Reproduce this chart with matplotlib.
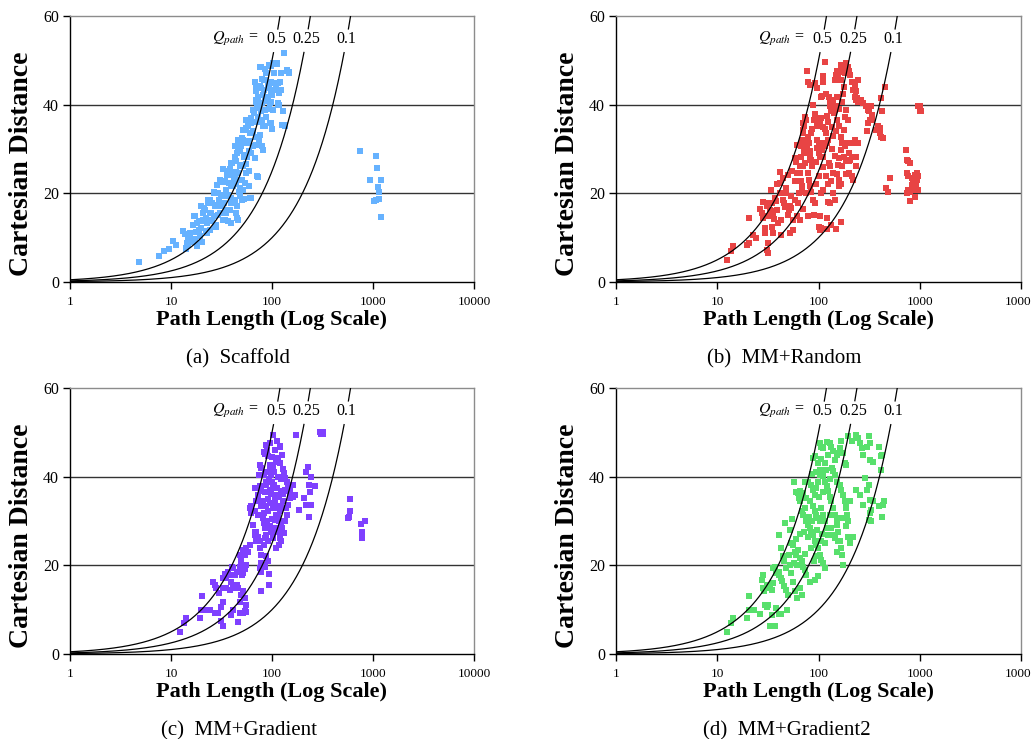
import numpy as np
import matplotlib
matplotlib.use("Agg")
import matplotlib.pyplot as plt
from matplotlib.ticker import NullLocator

plt.rcParams['font.family'] = ['Liberation Serif', 'DejaVu Serif']
plt.rcParams['mathtext.fontset'] = 'stix'

# ---------------- data: (path length, cartesian distance) ----------------
scaffold_pts = [
    (4.8,4.4),(7.6,5.9),(8.5,6.9),(9.5,7.4),(10.5,9.2),(11.3,8.4),(13.2,11.4),(14,7.7),(14.4,8.8),(14.8,10.1),
    (15.4,11.0),(15.9,9.7),(16.9,14.8),(17.8,11.2),(18,8.6),(19,11.8),(20,13.7),(20.8,15.6),(21.2,16.7),(22.4,14.4),
    (22.7,11),(23.3,17.8),(24.2,18.6),(25.1,15.6),(25.7,14),(26.5,20.1),(27,17.1),(28.2,12.9),(28.6,21.9),(30,18.6),
    (30.4,15.6),(31.6,19.3),(32.9,22.5),(33.4,17.8),(34,14),(35.4,20.8),(35.9,24.2),(36.6,19.7),(38,16.2),(38.6,25.5),
    (39.5,21.6),(40.4,26.8),(41,18.6),(41.6,23.1),(42.6,28.3),(43.6,15.6),(44.4,24.9),(45,14.4),(46,29.5),(47,20.4),
    (47.9,26.1),(48.7,23.1),(49.8,30.6),(51,18.6),(51.7,32.1),(52.5,28.3),(53.8,34.3),(55,24.6),(55.5,36.6),(56.6,31.3),
    (58,35.1),(59.3,29.5),(61,18.9),(62.6,35.8),(64,33.6),(65,38.8),(66,38.1),(67.5,45.2),(69,41.1),(70,43),
    (71,23.8),(72.6,37.3),(74.5,32.1),(75.5,48.6),(76.5,39.6),(78.3,43.7),(80,30.6),(81,35.1),(82.5,45.6),(84.5,41.1),
    (86.5,47.1),(87.8,37.3),(91,44.1),(93.5,49),(95,40.3),(96.5,35.8),(98,42.2),(102,49.4),(106,43.4),(108,49.4),
    (112,49.4),(114,40.3),(117,40),(119,45.2),(123,43.4),(126,35.5),(131,51.6),(134,35.1),(141,47.9),(149,47.3),
    (77,48.6),(98,48.8),(107,49.4),(112,49.2),(86,48),(104,47.1),(124,47.1),(142,47.7),(148,47.1),
    (68,45.2),(79,45.8),(88,45.6),(97,45.2),(102,44.9),(115,44.9),
    (70,43.7),(76,44.1),(83,43.4),(93,43.7),(98,43),(110,43.5),
    (73,41.8),(81,42.2),(91,41.7),(100,42.2),(117,42.6),
    (70,40.7),(79,40.3),(88,40.9),(97,40.7),(115,40),
    (65,38.8),(71,39.2),(77,38.5),(85,38.7),(93,39),(103,38.8),(128,38.5),(133,35.5),
    (57,36.6),(61.5,37),(67.5,36.2),(74,36),(79.5,36.6),(85,35.1),(100,34.5),(97,35.8),
    (51.6,34.3),(55.7,34.7),(60,33.6),(64.9,34),(70,32.8),(75.5,33.2),
    (46,32.1),(50,32.5),(53.7,31.3),(58.9,31.7),(65,30.6),(70,31),(81,29.8),
    (43,30.6),(44.6,29.1),(48,29.5),(52.7,28.7),(57,28.3),(62.5,29.1),(67.5,28),
    (39.6,26.8),(43.6,27.2),(48,26.4),(51.7,26.1),(55.7,26.7),(58.9,25),(72.6,23.7),
    (32.8,25.5),(36.7,25),(39,24.2),(43,23.8),(46,24.6),(50,23.1),(53.7,22.3),(58.9,21.6),
    (30.4,23.1),(34,22.7),(37.3,22.3),(41,21.6),(44.4,22.2),(47.8,21.2),(51.6,20.8),
    (26.7,20.4),(29.3,20.1),(31.6,19.7),(35.4,19.3),(39,18.9),(43,18.6),(47.8,19.3),(52.6,18.7),
    (23.4,18.6),(25.5,17.8),(28.1,17.4),(31.5,17.1),(34.7,16.3),(39.6,17.8),(44.6,17.1),(61.6,18.9),
    (19.7,17.1),(21.6,16.3),(24.2,15.6),(26.7,14.8),(29.3,15.2),(32.8,14),(35.4,15.6),(39.6,13.3),(46,14),
    (17.2,14.8),(18.8,13.7),(20.8,14),(22.9,13.3),(25.5,13.7),(28.1,12.5),(36.7,13.7),
    (16.6,12.9),(17.9,13.4),(20,12.2),(22.4,11.4),(24.2,11.8),(27.2,12.9),
    (13.7,10.8),(15.4,10.1),(17.2,9.7),(19.3,10.4),(20.3,9.0),(16,9.0),(14.8,8.3),(14.2,7.5),(17.9,8.1),
    (740,29.5),(1075,28.5),(1090,25.7),(925,22.9),(1200,23.1),(1120,21.4),(1140,20.4),(1075,18.6),(1150,18.8),(1030,18.3),(1200,14.6),
]

random_pts = [
    (12.4,4.9),(13.6,6.9),(14.4,8.2),(19.5,8.3),(20.5,8.9),(20.5,14.4),(22.6,10.6),(24,9.9),(26.4,16.5),(27.4,15.6),
    (28,18),(28.5,14.4),(29.6,11.0),(29.6,12.2),
    (30.7,17.1),(31.8,15.0),(32.5,17.8),(33.5,16.3),(34,14.8),(34.8,17.9),(35.2,15.2),(35.8,16.0),(36.5,14.2),
    (31,7.3),(32,6.5),(31.5,8.8),(33.9,20.8),(34.9,12.5),(35.5,11),(37,18.9),(37.9,18.2),(39,16.3),(40,13.3),
    (41.5,24.7),(42,22.3),(43,10.7),(43,14),
    (45,18.6),(46,17.8),(47,17),(48,20),(48,21.2),(50,15.2),(51,16.3),(52,17.2),(53,19.3),(54,16.7),(55.6,13.9),
    (56,11.8),(59,18.6),(59,22.7),(61,24.6),(61.6,14.8),(63,17.8),(65,14),(64.6,20),
    (65,26.1),(66.5,28.3),(67.5,30.6),(68.5,32.1),(70,33.6),(70,35.8),(71,34.3),(72,35.1),(74,37.3),(75,36.6),
    (77,47.5),(79,45.2),
    (66,24.6),(67,22.7),(68,21.6),(69,20.4),(71,26.1),(73,26.8),
    (76,32.1),(77,30.6),(79,32.8),(80,31.3),(82,29.5),(83,28.3),(85,33.6),(85,27.6),
    (79,24.6),(81,23.1),(82,21.6),(84,20.4),(87,26.1),
    (89,18.6),(90,15.2),(92,17.8),(96,35.1),(97,32.1),
    (96,30.2),(100,29.1),(102,30.6),(103,28.3),(105,31.3),(108,29.8),
    (105,41.8),(107,37),(110,46.4),(111,45.2),
    (112,28.3),(115,30.6),(118,33.6),(120,31.3),(124,32.1),(127,26.8),(129,26.1),
    (100,12.5),(104,11.8),(107,12.2),(120,11.9),(132,12.9),
    (103,14.8),(112,20.8),(129,17.8),(140,20),(134,22.7),(140,24.6),
    (126,41.8),(129,41.1),(131,39.6),(134,38.5),(137,40.3),(140,41.1),(142,38.1),(145,38.8),(148,39.6),(151,41.8),
    (145,45.6),(148,46.7),(152,47.5),(156,46),(162,47.3),(165,48.9),(168,45.6),(172,48),
    (189,49.5),(195,48.6),(200,47.5),(182,47.1),(207,46.7),(212,45.2),(220,43.4),(228,44.1),(237,43),(246,45.6),
    (151,36.6),(158,35.1),(165,32.8),(172,31.3),(178,34.3),(182,37.3),(189,38.8),(195,36.6),
    (158,27.9),(165,29.8),(172,26.1),(178,28.3),(182,30.6),(189,27.2),(195,31.3),(200,29.1),(207,27.6),(212,28.3),
    (220,31.3),(228,32.1),(237,26.1),(243,31.3),
    (151,24.4),(158,21.6),(165,22),(185,24.4),(198,27.2),(200,24.6),(215,23.8),(220,23),(237,28.3),
    (228,41.8),(232,41.1),(240,41.5),(246,40.7),(265,41.1),(275,40.3),(296,39.6),(305,38.8),(315,38.5),(330,39.6),
    (335,36.6),(340,37.7),
    (298,34),(309,35.8),(321,36.6),(373,34.3),(388,35.1),(403,34.7),(409,33.6),(419,32.8),(435,32.4),(452,44.0),
    (419,41.5),(427,38.5),
    (469,21.2),(487,20.4),(505,23.4),
    (728,29.7),(740,27.6),(768,27.2),(810,26.8),(740,24.6),(768,23.8),(830,23.4),(860,22.7),(890,24.2),(940,24.6),
    (958,23.8),(830,21.9),(890,21.6),(920,21.9),(940,23.1),(740,20.1),(800,20.4),(830,20.8),(860,21),(890,21.2),
    (958,20.8),(770,20.8),(810,18.2),(905,19.1),(958,39.8),(1010,39.8),(995,38.5),(1030,38.5),
    (115,49.6),(83,44.5),(93,45),(96,43.8),(108,42),(118,42.5),(88,40),(92,38),(100,37),(104,36),(110,35),
    (115,34.5),(86,34.5),(90,36.5),(120,37.5),(125,36),(135,35),(140,33),(150,34),(160,39),(170,40.5),(175,42.5),
    (180,44),(76,29),(72,29.5),(95,27),(110,26),(118,24),(125,22),(60,27),(55,25),(58,28),(62,31),(135,30),
    (145,28.5),(155,26.5),(75,20),(95,22),(100,24),(105,20),(125,18),(145,18.5),(160,23),(42,20),(39,22),
    (45,23.5),(50,24.2),(52,11),(70,16.5),(78,15),(120,14.5),(150,12),(165,13.5),
]

gradient_pts = [
    (12.4,4.9),(13.5,6.9),(14.2,8.2),(19.5,8.2),(20,9.9),(20.5,13),(22.4,9.9),(24.2,9.9),(27.1,9.2),(29.3,9.2),
    (31.3,7.5),(32.8,6.4),(31.6,10.7),(32.8,11.8),
    (26,16.3),(27,15.6),(28.2,14.8),(30,13.7),(32.8,14.8),
    (33,17.2),(34.5,18),(35.4,17.1),(37,18.6),(38,17.9),(39,16.3),(40,19.7),
    (35.4,14.8),(38,14.5),(41,15.4),(43,14.8),(44.6,15.6),(46,14.8),
    (39.5,8.8),(41,9.9),(46,7.3),(48,9.2),(51.6,9.2),(53.7,9.6),(55.7,9.4),
    (48,11.8),(49,13.2),(51.6,14.1),(53.7,12.6),(55.7,11),
    (41,19.4),(43,17.8),(44.6,18.6),(48,19.7),(49.5,20.9),(50.5,17.8),(52,18.2),(54,19.1),(55.5,20.1),
    (48,22.4),(49.5,21.2),(51.6,23.5),(53.7,22.4),(55.7,23.9),(57.5,23.1),(60,24.6),
    (60,32.9),(62.4,31.8),(64.5,29.1),(67.5,27.6),(68.5,26.9),(70,25.4),(72.8,26.5),(75.5,23.9),(77,22.4),(78.5,20.5),
    (75.5,19.4),(78.5,18.6),(81.3,20.1),(84.5,19.7),(88,22),(91.3,20.9),(93.5,18),(93.5,15.6),(78.5,14.2),
    (74,40.4),(76,37.8),(78.5,36.7),(80,34.4),(81.3,31.4),(82.8,29.5),(84.5,28.4),(86,26.1),
    (88,47.2),(86,45.1),(91.3,44.6),(95,42.7),(98,40.4),(100,38.9),(102,37.4),(106,35.9),(108,34.4),(110,32.9),
    (114.5,31.4),(117,29.9),(119,27.6),(121,26.1),(124,25.4),
    (102,49.5),(119,46.8),(121,47),(126,45),(128,41.8),(131,40.8),(135,39.8),(140,38.9),(145,38.2),(150,37),
    (161,38.2),(168,35.9),(150,35.2),(145,33.7),(140,31.4),(135,29.9),(126,28.4),(131,27.3),
    (171,49.5),(185,32.5),
    (219,41),(226,42.1),(232,38.1),(244,39.9),(236,36.5),(215,33.5),(209,35.2),(232,31),(244,33.5),(269,38),
    (301,50),(318,49.7),(307,49.6),(323,50),
    (586,35),(596,32.3),(580,31),(570,30.6),(764,29.3),(824,29.9),(778,27.6),(778,26.2),
    (75.5,42.7),(78.5,41.9),(82.8,40.4),(88,38.9),(95,41.2),(102,42.3),(110,43.4),(114.5,44.1),(119,43),
    (77,33.3),(81.3,34.4),(88,33.3),(91.3,32.2),(96.4,34),(102,32.9),(106,33.7),(110,31.4),(119,32.2),(124,33.3),
    (128,34.4),(138,32.9),
    (72.8,31.4),(81.3,30.6),(89,29.9),(95,28.8),(106,30.3),(112,27.6),(124,28.8),(130,29.9),
    (64.5,29.1),(70,27.6),(75.5,25.4),(82.8,24.6),(91.3,25.4),(102,26.1),(110,23.9),(117,24.6),(88,26.9),
    (62.4,33.3),(67.5,32.2),(70,34.4),(72.8,35.9),(67.5,37.4),
    (88,38.2),(95,37.1),(104,38.2),(112,37.4),(123,36.7),(133,37),(144,36.7),(152,35.9),(162,35.5),
    (90,46),(96,47.5),(108,46),(112,48),(84,45.5),(100,44.5),(105,41),(93,39.5),(85,41),(115,40),(122,39.5),
    (98,36),(92,35),(86,36.5),(116,35.5),(128,36),(100,30.5),(97,27.5),(108,28.5),(84,31.8),
]

gradient2_pts = [
    (12.4,4.9),(13.6,6.9),(14.4,8.2),(19.8,8.2),(20.4,13),(20.5,9.9),(21.8,9.9),(23,9.9),(26.4,9),
    (27.4,16.7),(28,17.8),(28.4,14.8),(29,14.1),(29.5,11.1),(30.7,10.7),(31.9,11.1),
    (30.7,15.6),(32.5,14.8),(33.5,15.2),(34.5,14.5),(35.7,16),(33.5,6.4),(37,6.4),(34.5,8.8),(38,10.4),(41,9),(43,9),
    (35.7,19.4),(37,19.7),(38,18.2),(40.5,17.8),(41,18.6),(43,17.1),(44,16.4),(46,15.4),(48,14.5),(50,13.3),(49,9.9),
    (41,26.9),(43,23.9),(45,22),(46,20.9),(48,19.4),(51,22.4),(52,20.1),(54,18.2),(56,16.3),(59,14.1),(61,12.6),
    (65,14.8),(68,13.3),
    (47,29.5),(52,28),(54,25),(56,24.6),(58,23.1),(60.5,22.4),(63,23.5),(65.4,21.6),(68,20.9),(70.6,19.7),(73.4,19),
    (76,17.8),(83,16.3),(92,16.7),(99,17.5),
    (57,38.9),
    (60.5,36.5),(63,36.3),(65.4,36.7),(68,35.9),(71,36.3),(64,35.2),(66,34.4),(70,35.2),(76,35.2),
    (68,32.2),(71,31.4),(76,29.9),(79,29.1),(82,28.4),(85,27.6),(88.5,26.9),(92,25.4),(95.5,24.6),(99,23.9),
    (103,22.4),(107,21.2),(111,20.5),(115.5,19.4),(94,22),(90,20.9),
    (73,38.9),(79,38.9),(85,38.2),(88.5,37),(95.5,37.4),(99,38.9),(103,40.4),(104,41.6),(107,41.2),(111,40.1),
    (115.5,38.9),(120,37.8),(124.5,36.7),(129,35.5),(134,34.4),(140,32.9),(145,31.4),(151,30.3),(153,29.1),
    (89,44.2),(92.4,44.6),(103,47.6),(107,46.8),(111,46.5),(120,47.8),(129,47.6),(134,46.8),(140,45.7),(145,43.8),
    (151,44.9),(156,45.3),(162,46.5),(165,48),(175,45.3),(181,43.1),(189,42.7),
    (140,41.2),(145,40.4),(151,38.9),(162,38.2),(168,37),(175,35.9),(181,34.4),(189,32.9),(192,31.4),(196,29.9),
    (155,27.6),(162,25.4),(168,23.9),(171,22.4),(175,20.1),(151,23.1),(155,25.4),(140,26.9),(134,28.4),(145,26.1),
    (182,30.6),(189,28.8),(196,26.5),(204,25),(217,26.5),(189,34),(204,34.4),(165,30.6),
    (196,49.1),(212,48),(233,49.5),(246,48.7),(256,47.6),(266,46.5),(276,45),(298,46.8),(321,47.6),(317,49.1),
    (324,43.8),(346,43.4),
    (237,37),(256,35.9),(286,39.7),(298,37),(317,38.2),(321,34.8),(346,34.4),(333,32.5),(324,31.8),(333,29.9),
    (317,30.3),(276,33.6),
    (398,46.8),(419,44.6),(427,44.8),(419,41.6),(435,33.7),(442,34.4),(427,31),(398,33.3),
    (220,26.5),
    (82,34.4),(88.5,33.3),(92,32.2),(95.5,31.4),(99,30.6),(103,29.9),(107,33),(111,31.4),(115.5,29.9),(120,28.4),
    (124.5,26.9),(129,31.4),
    (98,43),(105,44),(115,43),(125,45),(135,42),(95,41),(86,40.5),(118,41.5),(130,39.5),(100,35.5),(110,36.5),
    (92,35.8),(80,31),(74,33),(86,30),(97,28),(108,27),(116,25),(78,26.5),(72,27.5),(84,24),(65,27),(60,26),
    (55,30.5),(62,20),(57,20.5),(74,22.5),(105,25.5),
]

panel_points = [scaffold_pts, random_pts, gradient_pts, gradient2_pts]
panel_colors = ['#66B2FF', '#E84444', '#7F40FF', '#58E06C']
panel_captions = ['(a)  Scaffold', '(b)  MM+Random', '(c)  MM+Gradient', '(d)  MM+Gradient2']

q_values = [0.5, 0.25, 0.1]
q_labels = ['0.5', '0.25', '0.1']
x_ticks = [1, 10, 100, 1000, 10000]
x_ticklabels = ['1', '10', '100', '1000', '10000']
y_ticks = [0, 20, 40, 60]

# ---------------- layout (pixels) ----------------
W, H = 1031, 739
fig = plt.figure(figsize=(W / 100, H / 100), dpi=100)

panels_px = [  # left, top, right, bottom
    (70, 16, 474, 282),
    (616, 16, 1021, 282),
    (70, 388, 474, 654),
    (616, 388, 1021, 654),
]
caption_x = [238, 784, 239, 787]

label_y = 54.7   # vertical position of Q labels (data)
gap_lo, gap_hi = 52.0, 57.0

for i, (l, t, r, b) in enumerate(panels_px):
    ax = fig.add_axes([l / W, 1 - b / H, (r - l) / W, (b - t) / H])
    ax.set_xscale('log')
    ax.set_xlim(1, 10000)
    ax.set_ylim(0, 60)

    for y in (20, 40):
        ax.axhline(y, color='#333333', lw=1.0, zorder=1)

    L, D = zip(*panel_points[i])
    ax.scatter(L, D, s=13, marker='s', color=panel_colors[i], linewidths=0, zorder=2)

    xs = np.logspace(0, 4, 1500)
    for q in q_values:
        ys = q * xs
        lo = np.where(ys <= gap_lo, ys, np.nan)
        hi = np.where(ys >= gap_hi, ys, np.nan)
        ax.plot(xs, lo, color='black', lw=0.9, zorder=3)
        ax.plot(xs, hi, color='black', lw=0.9, zorder=3)
    for q, lab in zip(q_values, q_labels):
        ax.text(label_y / q, label_y, lab, ha='center', va='center', fontsize=11.5, zorder=4)
    ax.text(43, label_y, r'$Q_{path}$ =', ha='center', va='center', fontsize=11.5, zorder=4)

    ax.set_xticks(x_ticks)
    ax.set_xticklabels(x_ticklabels)
    ax.xaxis.set_minor_locator(NullLocator())
    ax.set_yticks(y_ticks)
    ax.tick_params(axis='x', direction='out', length=5, width=1, labelsize=9.5, pad=5)
    ax.tick_params(axis='y', direction='out', length=5, width=1, labelsize=11.5, pad=3)

    for side in ('top', 'right'):
        ax.spines[side].set_color('#8c8c8c')
        ax.spines[side].set_linewidth(1.0)
    for side in ('left', 'bottom'):
        ax.spines[side].set_color('black')
        ax.spines[side].set_linewidth(1.0)

    cx = (l + r) / 2
    fig.text(cx / W, 1 - (b + 43) / H, 'Path Length (Log Scale)', ha='center', va='baseline',
             fontsize=16, fontweight='bold')
    fig.text((l - 48) / W, 1 - (t + 148) / H, 'Cartesian Distance', ha='center', va='center',
             rotation=90, fontsize=20, fontweight='bold')
    fig.text(caption_x[i] / W, 1 - (b + 81) / H, panel_captions[i], ha='center', va='baseline',
             fontsize=15)

fig.savefig('out.png', dpi=100)
